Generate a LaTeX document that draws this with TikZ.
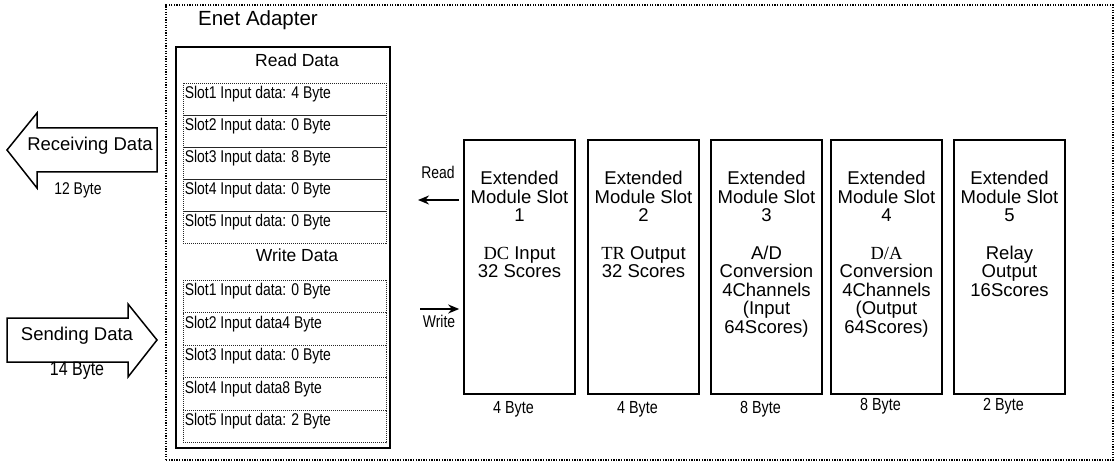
\documentclass[tikz,border=0pt]{standalone}
\usepackage{fontspec}
\setmainfont{Liberation Sans}
\newfontfamily\dcfont{Liberation Serif}
\newfontfamily\narrowfont[FakeStretch=0.82]{Liberation Sans}
\usetikzlibrary{positioning,arrows.meta}

\begin{document}
\begin{tikzpicture}[x=1pt,y=-1pt,>={Stealth[length=11pt,width=9pt]},
  modbox/.style={draw,line width=1.6pt,minimum width=111pt,minimum height=254pt,inner sep=0pt},
  modtext/.style={anchor=north,align=center,inner sep=0pt,font=\fontsize{18.5}{18.5}\selectfont},
  slotbox/.style={draw=black!85,line width=0.9pt,dash pattern=on 1pt off 1pt,minimum width=203pt,minimum height=32pt,inner sep=0pt},
  slottext/.style={anchor=base west,inner sep=0pt,font=\narrowfont\fontsize{17}{18}\selectfont},
  bytetext/.style={inner sep=0pt,font=\narrowfont\fontsize{17.5}{18}\selectfont},
  blockarrow/.style={draw,line width=1.5pt,line join=miter}]
\useasboundingbox (0,0) rectangle (1116,462);

\node[draw,line width=1.3pt,dash pattern=on 1.3pt off 1.3pt,minimum width=947pt,minimum height=455pt,inner sep=0pt] (enet) at (639.5,232.5) {};
\node[font=\fontsize{20.5}{22}\selectfont] (enetlabel) at (258,20) {Enet Adapter};
\node[draw,line width=1.6pt,minimum width=214pt,minimum height=401pt,inner sep=0pt] (adapter) at (283,247.5) {};

\node[font=\fontsize{17.5}{19}\selectfont] (readdata) at (297,60) {Read Data};
\foreach \i/\t in {1/{Slot1 Input data: 4 Byte},2/{Slot2 Input data: 0 Byte},3/{Slot3 Input data: 8 Byte},4/{Slot4 Input data: 0 Byte},5/{Slot5 Input data: 0 Byte}}{
  \node[slotbox] (rs\i) at (284.5,{99+32*(\i-1)}) {};
  \node[slottext] (rt\i) at ([xshift=2pt,yshift=-16pt]rs\i.north west) {\t};
}

\node[font=\fontsize{17.5}{19}\selectfont] (writedata) at (297,255) {Write Data};
\foreach \i/\t in {1/{Slot1 Input data: 0 Byte},2/{Slot2 Input data4 Byte},3/{Slot3 Input data: 0 Byte},4/{Slot4 Input data8 Byte},5/{Slot5 Input data: 2 Byte}}{
  \node[slotbox,minimum height=32.5pt] (ws\i) at (284.5,{296.25+32.5*(\i-1)}) {};
  \node[slottext] (wt\i) at ([xshift=2pt,yshift=-16pt]ws\i.north west) {\t};
}

\draw[blockarrow] (157,128) -- (37,128) -- (37,113) -- (7,150) -- (37,188) -- (37,172) -- (157,172) -- cycle;
\node[font=\fontsize{18.5}{20}\selectfont] (recv) at (90,146) {Receiving Data};
\node[font=\narrowfont\fontsize{17}{18}\selectfont] (recvbytes) at (78,190) {12 Byte};

\draw[blockarrow] (7,318) -- (128,318) -- (128,304) -- (157,340) -- (128,377) -- (128,362) -- (7,362) -- cycle;
\node[font=\fontsize{18.5}{20}\selectfont] (send) at (77,336) {Sending Data};
\node[font=\narrowfont\fontsize{19.5}{20}\selectfont] (sendbytes) at (77,371) {14 Byte};

\foreach \n/\x in {1/519.5,2/643.5,3/766.5,4/886.5,5/1009.5}
  \node[modbox] (m\n) at (\x,267) {};

\node[modtext] (t1) at ([yshift=-32pt]m1.north) {Extended\\Module Slot\\1\\[19pt]{\dcfont DC} Input\\32 Scores};
\node[modtext] (t2) at ([yshift=-32pt]m2.north) {Extended\\Module Slot\\2\\[19pt]{\dcfont TR} Output\\32 Scores};
\node[modtext] (t3) at ([yshift=-32pt]m3.north) {Extended\\Module Slot\\3\\[19pt]A/D\\Conversion\\4Channels\\(Input\\64Scores)};
\node[modtext] (t4) at ([yshift=-32pt]m4.north) {Extended\\Module Slot\\4\\[19pt]{\dcfont D/A}\\Conversion\\4Channels\\(Output\\64Scores)};
\node[modtext] (t5) at ([yshift=-32pt]m5.north) {Extended\\Module Slot\\5\\[19pt]Relay\\Output\\16Scores};

\node[bytetext,below=6pt of m1,xshift=-6pt] (b1) {4 Byte};
\node[bytetext,below=6pt of m2,xshift=-6pt] (b2) {4 Byte};
\node[bytetext,below=6pt of m3,xshift=-6pt] (b3) {8 Byte};
\node[bytetext,below=3pt of m4,xshift=-6pt] (b4) {8 Byte};
\node[bytetext,below=3pt of m5,xshift=-6pt] (b5) {2 Byte};

\coordinate (rdend) at (418,200);
\coordinate (wrstart) at (420,309);
\draw[->,line width=2pt,shorten <=4pt] (m1.west |- rdend) -- (rdend);
\draw[->,line width=2pt,shorten >=4pt] (wrstart) -- (m1.west |- wrstart);
\node[font=\narrowfont\fontsize{17}{18}\selectfont] (readlbl) at (438,172) {Read};
\node[font=\narrowfont\fontsize{17}{18}\selectfont] (writelbl) at (439,321) {Write};
\end{tikzpicture}
\end{document}
